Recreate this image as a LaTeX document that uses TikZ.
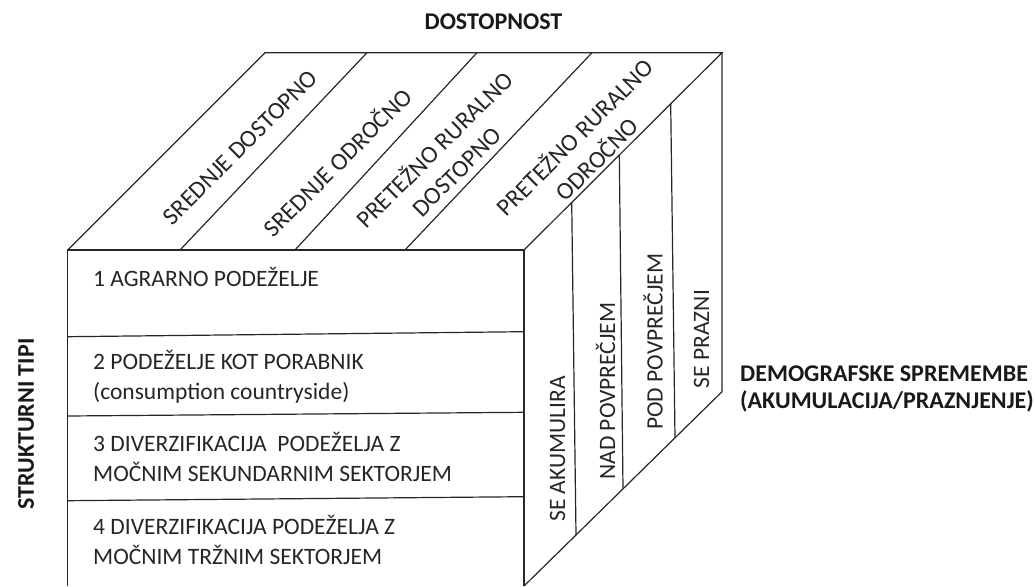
\documentclass[tikz,border=0pt]{standalone}
\usepackage{fontspec}
\setmainfont{Carlito}
\usepackage{tikz}
\usetikzlibrary{positioning}
\tikzset{>=stealth}
\tikzset{
  edge/.style={line width=1.2pt, black!85},
  lbl/.style={font=\fontsize{23.5}{30}\selectfont, inner sep=0pt, black!85},
  topcell/.style={font=\fontsize{24.5}{31}\selectfont, inner sep=0pt, black!85, rotate=45, align=center},
  heading/.style={font=\fontsize{24}{26.5}\selectfont\bfseries, inner sep=0pt, black!90},
}

\begin{document}
\begin{tikzpicture}[x=1pt,y=-1pt]
        \useasboundingbox (0,0) rectangle (1035,586);
        % corners of the cube
        \coordinate (ftl) at (67.7,250);
        \coordinate (ftr) at (524,250);
        \coordinate (fbl) at (67.7,586);
        \coordinate (fbr) at (524,586);
        \coordinate (btl) at (265,52.7);
        \coordinate (btr) at (722,52.7);
        \coordinate (bbr) at (722,391.7);
        \draw[edge] (fbl) -- (ftl) -- (ftr) -- (fbr);
        \draw[edge] (ftl) -- (btl) -- (btr) -- (ftr);
        \draw[edge] (btr) -- (bbr) -- (fbr);
        % top face
        \draw[edge] (180,250) -- (367,52.7);
        \draw[edge] (295,250) -- (477,52.7);
        \draw[edge] (405,250) -- (592,52.7);
        % front face
        \draw[edge] (67.7,336.7) -- (524,331.7);
        \draw[edge] (67.7,416) -- (524,412.3);
        \draw[edge] (67.7,500.7) -- (524,496.7);
        % right face
        \draw[edge] (571.7,202.5) -- (576,535);
        \draw[edge] (619.3,155) -- (623,489);
        \draw[edge] (670.7,103.8) -- (675,438);

        \node[heading] (dost) at (493.5,21.5) {DOSTOPNOST};
        \node[heading, rotate=90] (struk) at (26,424) {STRUKTURNI TIPI};
        \node[heading, anchor=base west] (demo) at (740,381.5) {DEMOGRAFSKE SPREMEMBE};
        \node[heading, anchor=base west] (akpr) at ([yshift=-26.5pt]demo.base west) {(AKUMULACIJA/PRAZNJENJE)};

        \node[topcell] (sdost) at (240.5,147.5) {SREDNJE DOSTOPNO};
        \node[topcell] (sodr) at (336.7,161.7) {SREDNJE ODROČNO};
        \node[topcell] (prdost) at (444.6,159.6) {PRETEŽNO RURALNO\\DOSTOPNO};
        \node[topcell] (prodr) at (585,147.5) {PRETEŽNO RURALNO\\ODROČNO};

        \node[lbl, rotate=90] (akum) at (557.5,449) {SE AKUMULIRA};
        \node[lbl, rotate=90] (nad) at (605.5,391) {NAD POVPREČJEM};
        \node[lbl, rotate=90] (pod) at (653,341.7) {POD POVPREČJEM};
        \node[lbl, rotate=90] (prazni) at (701.5,339) {SE PRAZNI};

        \node[lbl, anchor=base west] (agr) at (93,286.5) {1 AGRARNO PODEŽELJE};
        \node[lbl, anchor=base west] (por) at (93,369.5) {2 PODEŽELJE KOT PORABNIK};
        \node[lbl, anchor=base west] (cons) at ([yshift=-30pt]por.base west) {(consumption countryside)};
        \node[lbl, anchor=base west] (sek) at (93,451.5) {3 DIVERZIFIKACIJA\ \ PODEŽELJA Z};
        \node[lbl, anchor=base west] (seka) at ([yshift=-30pt]sek.base west) {MOČNIM SEKUNDARNIM SEKTORJEM};
        \node[lbl, anchor=base west] (trz) at (93,534.5) {4 DIVERZIFIKACIJA PODEŽELJA Z};
        \node[lbl, anchor=base west] (trza) at ([yshift=-30pt]trz.base west) {MOČNIM TRŽNIM SEKTORJEM};
      \end{tikzpicture}
\end{document}
